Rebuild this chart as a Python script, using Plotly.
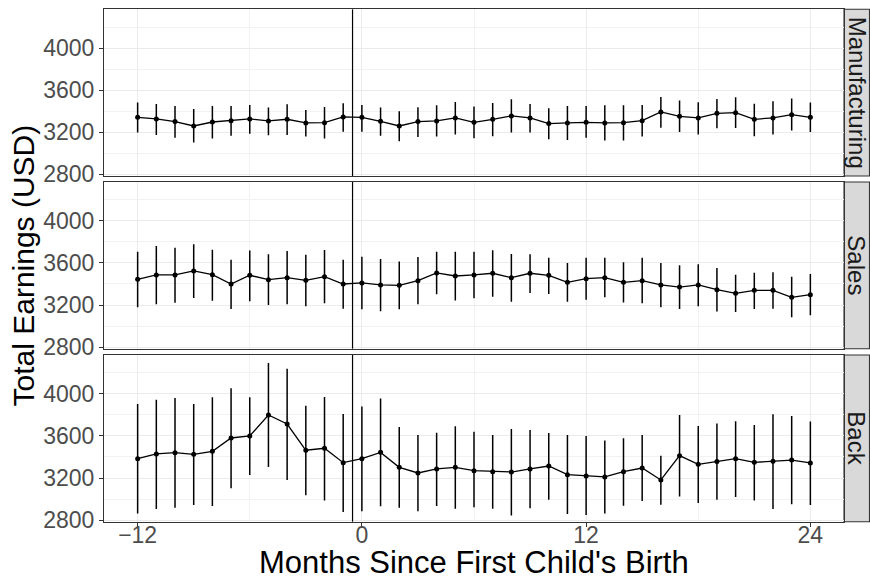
import plotly.graph_objects as go

months = list(range(-12, 25))
panels = ["Manufacturing", "Sales", "Back"]

manu_mean = [3343, 3327, 3302, 3260, 3298, 3311, 3327, 3308, 3324, 3289, 3292, 3346, 3343, 3305, 3260, 3302, 3308, 3337, 3295,
             3324, 3356, 3337, 3283, 3289, 3295, 3289, 3292, 3311, 3394, 3352, 3337, 3381, 3387, 3324, 3337, 3368, 3343]
manu_low = [3197, 3175, 3149, 3102, 3140, 3168, 3187, 3171, 3175, 3159, 3140, 3206, 3206, 3168, 3114, 3156, 3159, 3178, 3143,
            3162, 3197, 3197, 3133, 3127, 3149, 3121, 3121, 3159, 3244, 3203, 3178, 3238, 3241, 3162, 3178, 3216, 3203]
manu_high = [3483, 3470, 3451, 3422, 3451, 3451, 3460, 3435, 3467, 3413, 3441, 3476, 3460, 3435, 3400, 3438, 3457, 3489, 3445,
             3479, 3514, 3470, 3429, 3451, 3451, 3457, 3457, 3460, 3537, 3502, 3486, 3518, 3533, 3473, 3495, 3521, 3483]

sales_mean = [3444, 3486, 3486, 3524, 3489, 3400, 3483, 3441, 3460, 3435, 3470, 3400, 3410, 3391, 3387, 3432, 3505, 3476, 3486,
              3502, 3460, 3502, 3483, 3416, 3451, 3460, 3416, 3432, 3391, 3371, 3391, 3346, 3311, 3340, 3340, 3273, 3298]
sales_low = [3178, 3206, 3222, 3267, 3241, 3162, 3235, 3200, 3206, 3187, 3216, 3165, 3159, 3140, 3159, 3206, 3302, 3244, 3264,
             3279, 3232, 3314, 3305, 3232, 3251, 3273, 3225, 3216, 3178, 3162, 3187, 3137, 3133, 3162, 3165, 3083, 3102]
sales_high = [3708, 3762, 3746, 3778, 3727, 3632, 3718, 3683, 3714, 3679, 3724, 3632, 3660, 3638, 3613, 3657, 3708, 3708, 3708,
              3721, 3686, 3683, 3651, 3600, 3651, 3651, 3606, 3651, 3600, 3578, 3587, 3552, 3489, 3508, 3511, 3470, 3495]

back_mean = [3384, 3429, 3441, 3425, 3454, 3581, 3600, 3800, 3714, 3464, 3483, 3346, 3384, 3444, 3302, 3248, 3286, 3302, 3270,
             3260, 3257, 3286, 3314, 3232, 3219, 3210, 3260, 3295, 3181, 3413, 3330, 3356, 3384, 3349, 3359, 3371, 3343]
back_low = [2863, 2905, 2917, 2943, 2933, 3102, 3229, 3305, 3181, 3035, 2987, 2876, 2883, 2930, 2917, 2883, 2933, 2908, 2921,
            2908, 2844, 2911, 2994, 2857, 2848, 2863, 2936, 2981, 2946, 3025, 2962, 2994, 3019, 2987, 2905, 2949, 2943]
back_high = [3905, 3946, 3962, 3905, 3968, 4054, 3968, 4295, 4241, 3889, 3972, 3810, 3880, 3956, 3686, 3610, 3632, 3692, 3641,
             3610, 3667, 3657, 3629, 3610, 3600, 3556, 3578, 3610, 3413, 3800, 3695, 3718, 3740, 3705, 3806, 3790, 3737]

x_ticks = [-12, 0, 12, 24]
x_tick_text = ["\u221212", "0", "12", "24"]
x_minor = [-6, 6, 18]
y_ticks = [2800, 3200, 3600, 4000]
y_minor = [3000, 3400, 3800, 4200]
birth_line = -0.5

W, H = 870, 577
series = [(manu_mean, manu_low, manu_high), (sales_mean, sales_low, sales_high), (back_mean, back_low, back_high)]
panel_px = [(9.3, 176.0), (182.0, 348.7), (355.0, 521.7)]
xdom = [104 / W, 844 / W]

FONT = "Liberation Sans, Arial, sans-serif"
fig = go.Figure()
layout = dict(width=W, height=H, margin=dict(l=0, r=0, t=0, b=0),
              paper_bgcolor="white", plot_bgcolor="white", showlegend=False,
              font=dict(family=FONT))
shapes = []
annotations = []

for i, (name, (m, lo, hi)) in enumerate(zip(panels, series)):
    ax = "" if i == 0 else str(i + 1)
    top, bot = panel_px[i]
    ydom = [1 - bot / H, 1 - top / H]
    fig.add_trace(go.Scatter(
        x=months, y=m, mode="lines+markers",
        xaxis="x" + ax, yaxis="y" + ax,
        line=dict(color="black", width=1.3),
        marker=dict(color="black", size=5),
        error_y=dict(type="data", symmetric=False,
                     array=[h - v for h, v in zip(hi, m)],
                     arrayminus=[v - l for l, v in zip(lo, m)],
                     color="black", thickness=1.5, width=0),
    ))
    last = i == 2
    layout["xaxis" + ax] = dict(
        domain=xdom, anchor="y" + ax, range=[-13.8, 25.8],
        tickvals=x_ticks, ticktext=x_tick_text,
        showticklabels=last, ticks="outside" if last else "", ticklen=4, tickcolor="#333333",
        ticklabelstandoff=-11,
        tickfont=dict(size=23, color="#4D4D4D", family=FONT),
        showgrid=True, gridcolor="#EBEBEB", gridwidth=1.1,
        minor=dict(tickvals=x_minor, showgrid=True, gridcolor="#F2F2F2", gridwidth=0.6, ticks=""),
        showline=True, linecolor="#333333", linewidth=1.1, mirror=True, zeroline=False,
        automargin=False,
    )
    layout["yaxis" + ax] = dict(
        domain=ydom, anchor="x" + ax, range=[2784, 4371],
        tickvals=y_ticks, ticks="outside", ticklen=4, tickcolor="#333333",
        tickfont=dict(size=23, color="#4D4D4D", family=FONT),
        showgrid=True, gridcolor="#EBEBEB", gridwidth=1.1,
        minor=dict(tickvals=y_minor, showgrid=True, gridcolor="#F2F2F2", gridwidth=0.6, ticks=""),
        showline=True, linecolor="#333333", linewidth=1.1, mirror=True, zeroline=False,
        automargin=False,
    )
    shapes.append(dict(type="line", xref="x" + ax, yref="y" + ax + " domain",
                       x0=birth_line, x1=birth_line, y0=0, y1=1,
                       line=dict(color="black", width=1.2), layer="above"))
    shapes.append(dict(type="rect", xref="paper", yref="paper",
                       x0=844 / W, x1=869.5 / W, y0=ydom[0], y1=ydom[1],
                       fillcolor="#D9D9D9", line=dict(color="#333333", width=1.1), layer="below"))
    annotations.append(dict(text=name, xref="paper", yref="paper",
                            x=857 / W, y=(ydom[0] + ydom[1]) / 2, showarrow=False,
                            textangle=90, xanchor="center", yanchor="middle",
                            font=dict(size=24, color="#1A1A1A", family=FONT)))

annotations.append(dict(text="Total Earnings (USD)", xref="paper", yref="paper",
                        x=23 / W, y=1 - 265.5 / H, showarrow=False, textangle=-90,
                        xanchor="center", yanchor="middle",
                        font=dict(size=30, color="black", family=FONT)))
annotations.append(dict(text="Months Since First Child's Birth", xref="paper", yref="paper",
                        x=474 / W, y=1 - 562 / H, showarrow=False,
                        xanchor="center", yanchor="middle",
                        font=dict(size=31, color="black", family=FONT)))

layout["shapes"] = shapes
layout["annotations"] = annotations
fig.update_layout(**layout)
fig.write_html("out.html")
